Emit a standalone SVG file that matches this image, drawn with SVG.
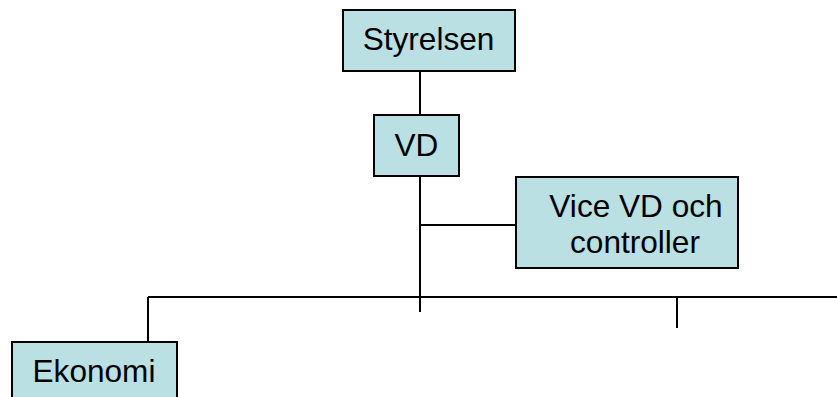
<svg xmlns="http://www.w3.org/2000/svg" width="837" height="397" viewBox="0 0 837 397">
  <style>
    .box { fill: #BAE0E3; stroke: #000; stroke-width: 2; }
    .lbl { font-family: "Liberation Sans", Arial, sans-serif; font-size: 31.6px; fill: #000; text-anchor: middle; }
    .wire { stroke: #000; stroke-width: 2; fill: none; }
  </style>
  <rect width="837" height="397" fill="#fff"/>
  <g id="connectors">
    <line class="wire" x1="420" y1="71" x2="420" y2="115"/>
    <line class="wire" x1="420" y1="176" x2="420" y2="312"/>
    <line class="wire" x1="420" y1="225" x2="516" y2="225"/>
    <line class="wire" x1="148" y1="297" x2="837" y2="297"/>
    <line class="wire" x1="148" y1="297" x2="148" y2="342"/>
    <line class="wire" x1="677" y1="297" x2="677" y2="328"/>
  </g>
  <g id="styrelsen">
    <rect class="box" x="343" y="10" width="172" height="61"/>
    <text class="lbl" x="428.5" y="50">Styrelsen</text>
  </g>
  <g id="vd">
    <rect class="box" x="374" y="115" width="85" height="61"/>
    <text class="lbl" x="416.5" y="156">VD</text>
  </g>
  <g id="vice-vd">
    <rect class="box" x="516" y="177" width="222" height="91"/>
    <text class="lbl" x="636" y="217">Vice VD och</text>
    <text class="lbl" x="635" y="253">controller</text>
  </g>
  <g id="ekonomi">
    <rect class="box" x="12" y="342" width="165" height="70"/>
    <text class="lbl" x="94" y="382">Ekonomi</text>
  </g>
</svg>
